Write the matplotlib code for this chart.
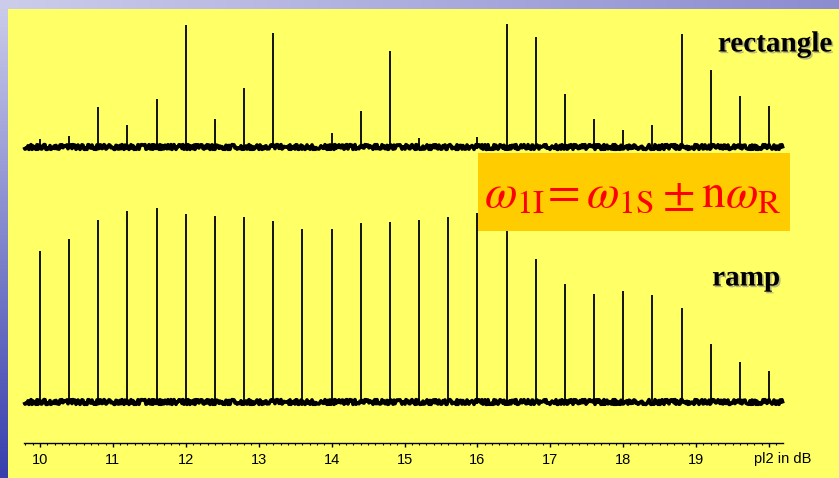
import numpy as np
import matplotlib
matplotlib.use('Agg')
import matplotlib.pyplot as plt
import matplotlib.patheffects as pe
from matplotlib.patches import Rectangle

plt.rcParams['mathtext.fontset'] = 'stix'

# peak positions (pl2 in dB) and peak heights
pl2 = [10.0, 10.4, 10.8, 11.2, 11.6, 12.0, 12.4, 12.8, 13.2, 13.6, 14.0, 14.4, 14.8,
       15.2, 15.6, 16.0, 16.4, 16.8, 17.2, 17.6, 18.0, 18.4, 18.8, 19.2, 19.6, 20.0]
rectangle = [8, 11, 40, 22, 48, 122, 28, 59, 114, 3, 14, 36, 96,
             9, 3, 10, 123, 110, 53, 28, 17, 22, 113, 77, 51, 41]
ramp = [151, 163, 182, 191, 194, 188, 186, 185, 181, 173, 173, 179, 180,
        182, 185, 189, 186, 143, 118, 108, 111, 107, 94, 58, 40, 31]
tick_vals = [10, 11, 12, 13, 14, 15, 16, 17, 18, 19, 20]
tick_labels = ['10', '11', '12', '13', '14', '15', '16', '17', '18', '19', '']

W, H = 839, 478
fig = plt.figure(figsize=(W / 100, H / 100), dpi=100)

# slide background: blue strips + yellow panel
bg = fig.add_axes([0, 0, 1, 1])
bg.set_xlim(0, W)
bg.set_ylim(H, 0)
bg.axis('off')
t = np.linspace(0, 1, 64)
left = np.zeros((64, 1, 3))
left[:, 0, :] = (1 - t)[:, None] * np.array([0.80, 0.80, 0.92]) + t[:, None] * np.array([0.22, 0.25, 0.68])
top = np.zeros((1, 64, 3))
top[0, :, :] = (1 - t)[:, None] * np.array([0.80, 0.80, 0.92]) + t[:, None] * np.array([0.55, 0.55, 0.82])
bg.imshow(left, extent=(0, 8, H, 0), aspect='auto', interpolation='bilinear')
bg.imshow(top, extent=(0, W, 9, 0), aspect='auto', interpolation='bilinear')
bg.add_patch(Rectangle((8, 9), W - 8, H - 9, facecolor='#ffff66', edgecolor='none'))
bg.set_xlim(0, W)
bg.set_ylim(H, 0)

# spectra axes
ax = fig.add_axes([0, 0, 1, 1], facecolor='none')
px = 72.9
ax.set_xlim(10 - 40 / px, 10 + (W - 40) / px)
ax.set_ylim(0, H)

x0, x1 = 10 - 16 / px, 10 + 743 / px
for base, heights in [(331, rectangle), (76.5, ramp)]:
    ln, = ax.plot([x0, x1], [base, base], color='black', lw=2.6, solid_capstyle='butt')
    ln.set_sketch_params(scale=2.4, length=2, randomness=3)
    ax.vlines(pl2, base, [base + h for h in heights], color='black', lw=1.3)

for s in ['top', 'left', 'right']:
    ax.spines[s].set_visible(False)
ax.spines['bottom'].set_position(('data', 35.5))
ax.spines['bottom'].set_bounds(x0, x1)
ax.spines['bottom'].set_linewidth(1.0)
ax.set_yticks([])
ax.set_xticks(tick_vals)
ax.set_xticklabels(tick_labels, fontfamily='Liberation Sans', fontsize=10.5)
ax.set_xticks(np.arange(9.8, 20.15, 0.1), minor=True)
ax.tick_params(axis='x', which='major', length=3.2, width=1, pad=4)
ax.tick_params(axis='x', which='minor', length=1.6, width=0.8)

# overlay in pixel coordinates
ov = fig.add_axes([0, 0, 1, 1], facecolor='none')
ov.set_xlim(0, W)
ov.set_ylim(H, 0)
ov.axis('off')
ov.add_patch(Rectangle((478, 153), 312, 78, facecolor='#ffcc00', edgecolor='none'))
ov.text(633, 194, r'$\omega_{\rm 1I}\!=\omega_{\rm 1S}\pm{\rm n}\omega_{\rm R}$',
        color='red', fontsize=34, ha='center', va='center')

shadow = [pe.withSimplePatchShadow(offset=(1.2, -1.2), shadow_rgbFace='#888888', alpha=0.6)]
ov.text(832, 44, 'rectangle', fontfamily='Liberation Serif', fontweight='bold',
        fontsize=21, ha='right', va='center', path_effects=shadow)
ov.text(780, 278, 'ramp', fontfamily='Liberation Serif', fontweight='bold',
        fontsize=21, ha='right', va='center', path_effects=shadow)
ov.text(783, 459, 'pl2 in dB', fontfamily='Liberation Sans', fontsize=10.5,
        ha='center', va='center')

fig.savefig('out.png', dpi=100)
